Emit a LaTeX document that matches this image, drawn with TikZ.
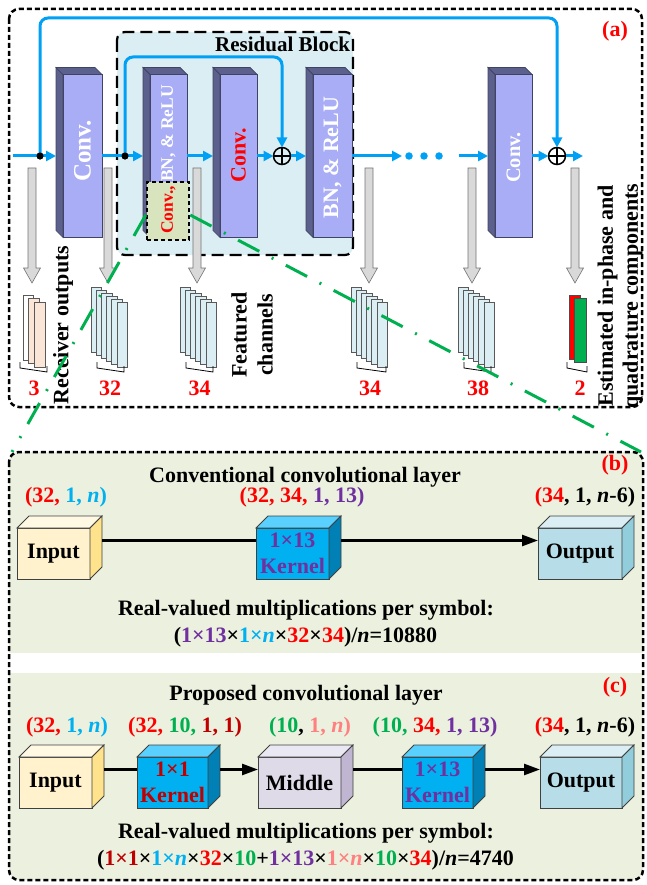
\documentclass[tikz,border=0pt]{standalone}
\usepackage{fontspec}
\setmainfont{Liberation Serif}
\usetikzlibrary{arrows.meta,calc}

% palette
\definecolor{flowblue}{RGB}{0,160,245}
\definecolor{layerblue}{RGB}{169,173,245}
\definecolor{layerdark}{RGB}{92,96,140}
\definecolor{resfill}{RGB}{218,238,243}
\definecolor{smallfill}{RGB}{215,228,189}
\definecolor{panelfill}{RGB}{235,241,222}
\definecolor{chanfill}{RGB}{218,238,243}
\definecolor{peach}{RGB}{251,229,214}
\definecolor{grayfill}{RGB}{217,217,217}
\definecolor{cred}{RGB}{255,0,0}
\definecolor{cblue}{RGB}{0,176,240}
\definecolor{cpurple}{RGB}{112,48,160}
\definecolor{cgreen}{RGB}{0,176,80}
\definecolor{cdred}{RGB}{192,0,0}
\definecolor{cpink}{RGB}{255,128,128}
\definecolor{infront}{RGB}{255,242,204}
\definecolor{intop}{RGB}{255,249,228}
\definecolor{inside}{RGB}{255,226,140}
\definecolor{kfront}{RGB}{0,176,240}
\definecolor{ktop}{RGB}{90,208,255}
\definecolor{kside}{RGB}{0,128,180}
\definecolor{mfront}{RGB}{222,218,232}
\definecolor{mtop}{RGB}{234,232,242}
\definecolor{mside}{RGB}{192,182,210}
\definecolor{ofront}{RGB}{183,222,232}
\definecolor{otop}{RGB}{218,238,243}
\definecolor{oside}{RGB}{146,205,220}

\newcommand\bfsz[2]{\fontsize{#1}{#2}\selectfont\bfseries}
\newcommand\txred[1]{\textcolor{cred}{#1}}
\newcommand\txblue[1]{\textcolor{cblue}{#1}}
\newcommand\txpurple[1]{\textcolor{cpurple}{#1}}
\newcommand\txgreen[1]{\textcolor{cgreen}{#1}}
\newcommand\txdred[1]{\textcolor{cdred}{#1}}
\newcommand\txpink[1]{\textcolor{cpink}{#1}}

\tikzset{
  txt/.style={font=\bfsz{22}{26}, inner sep=0pt, outer sep=0pt},
  panelframe/.style={draw=black, line width=2.5pt, dash pattern=on 5pt off 3pt, rounded corners=10pt},
  resblock/.style={draw=black, fill=resfill, line width=2.2pt, dash pattern=on 12pt off 6pt, rounded corners=8pt},
  layerface/.style={rectangle, draw=layerdark!70!black, line width=0.7pt, fill=layerblue,
    minimum height=163pt, inner sep=0pt, outer sep=0pt},
  layerside/.style={draw=layerdark!70!black, line width=0.7pt, fill=layerdark},
  smallconv/.style={rectangle, draw=black, fill=smallfill, line width=2.5pt, dash pattern=on 4pt off 3pt,
    minimum width=42pt, minimum height=58pt, inner sep=0pt},
  flow/.style={draw=flowblue, line width=3pt, -{Triangle[length=10pt,width=10pt]}},
  flowplain/.style={draw=flowblue, line width=3pt},
  junction/.style={circle, fill=black, minimum size=7pt, inner sep=0pt},
  bluedot/.style={circle, fill=flowblue, minimum size=7.5pt, inner sep=0pt},
  oplus/.style={circle, draw=black, line width=1.5pt, minimum size=17pt, inner sep=0pt, outer sep=0pt,
    path picture={\draw[line width=1.5pt] (path picture bounding box.north) -- (path picture bounding box.south)
      (path picture bounding box.west) -- (path picture bounding box.east);}},
  grayarr/.style={fill=grayfill, draw=black!55, line width=0.6pt},
  chan/.style={fill=chanfill, draw=black!65, line width=0.8pt},
  brk/.style={draw=black, line width=0.8pt},
  cubeface/.style={rectangle, draw=black!75, line width=0.8pt, minimum height=51pt, inner sep=0pt, outer sep=0pt},
  cubeedge/.style={draw=black!75, line width=0.8pt},
  blkline/.style={draw=black, line width=2.6pt},
  blkarrow/.style={draw=black, line width=2.6pt, -{Triangle[length=16pt,width=11pt]}},
  zoomline/.style={draw=cgreen, line width=3pt, dash pattern=on 24pt off 14pt on 2pt off 14pt},
}

% a layer drawn as a tall prism, depth towards the upper left
\newcommand\layerprism[3]{%
  \node[layerface, minimum width=#3pt, anchor=west] (#1) at (#2,156) {};
  \filldraw[layerside] (#1.north west) -- ($(#1.north west)+(-7,-7)$) -- ($(#1.south west)+(-7,-7)$) -- (#1.south west) -- cycle;
  \filldraw[layerside] (#1.north west) -- ($(#1.north west)+(-7,-7)$) -- ($(#1.north east)+(-7,-7)$) -- (#1.north east) -- cycle;
}
% a tensor/kernel drawn as a cube, depth towards the upper right
\newcommand\tcube[7]{%
  \node[cubeface, fill=#5, minimum width=#4pt, anchor=north west] (#1) at (#2,#3) {};
  \filldraw[cubeedge, fill=#6] (#1.north west) -- ($(#1.north west)+(12,-12)$) -- ($(#1.north east)+(12,-12)$) -- (#1.north east) -- cycle;
  \filldraw[cubeedge, fill=#7] (#1.north east) -- ($(#1.north east)+(12,-12)$) -- ($(#1.south east)+(12,-12)$) -- (#1.south east) -- cycle;
}
% wide gray arrow pointing down to a feature map
\newcommand\grayarrow[1]{%
  \filldraw[grayarr] (#1-4,168) -- (#1+4,168) -- (#1+4,268) -- (#1+8.5,268) -- (#1,283) -- (#1-8.5,268) -- (#1-4,268) -- cycle;
}
% stack of channels
\newcommand\chanstack[3]{%
  \foreach \k in {0,...,#3}{\filldraw[chan] ({#1+5.2*\k},{#2+3*\k}) rectangle ++(10.5,65);}
}
\newcommand\chanbracket[2]{%
  \draw[brk] (#1,362) -- (#1,368) -- (#2,372) -- (#2,366);
}

\begin{document}
\begin{tikzpicture}[x=1pt,y=-1pt]
\useasboundingbox (0,0) rectangle (646,885);

%% ---------------- panel (a): network ----------------
\draw[panelframe] (9,9) rectangle (642,407);
\draw[resblock] (117,32) rectangle (353,255);
\node[txt, font=\bfsz{21}{25}, anchor=base east] (rblabel) at (350,52) {Residual Block};
\node[txt, text=cred] (taga) at (615,31) {(a)};

\layerprism{conv1}{63}{39}
\layerprism{bn1}{150}{37}
\layerprism{conv2}{220}{37}
\layerprism{bn2}{313}{39}
\layerprism{conv3}{495}{37}

\node[smallconv] (sconv) at (168,211) {};

\node[txt, rotate=90, text=white, font=\bfsz{25}{28}] (conv1txt) at (82.5,151) {Conv.};
\node[txt, rotate=90, text=white, font=\bfsz{17.5}{20}] (bn1txt) at (168.5,159.5) {\textcolor{cred}{Conv.,} BN, \& ReLU};
\node[txt, rotate=90, text=cred, font=\bfsz{22}{26}] (conv2txt) at (238.5,155) {Conv.};
\node[txt, rotate=90, text=white, font=\bfsz{22}{26}] (bn2txt) at (332.5,157.5) {BN, \& ReLU};
\node[txt, rotate=90, text=white, font=\bfsz{20.5}{24}] (conv3txt) at (513.5,157.5) {Conv.};

% junctions, adders and the ellipsis
\coordinate (src) at (13,156);
\coordinate (sink) at (583,156);
\coordinate (topO) at (0,18);
\coordinate (topI) at (0,57);
\node[junction] (j1) at (40,156) {};
\node[junction] (j2) at (125,156) {};
\node[oplus] (add1) at (282,156) {};
\node[oplus] (add2) at (557,156) {};
\node[bluedot] (d1) at (409,156) {};
\node[bluedot] (d2) at (424,156) {};
\node[bluedot] (d3) at (439,156) {};

% main data path
\draw[flow] (src) -- ([xshift=-7pt]conv1.west);
\draw[flow] (conv1.east) -- ([xshift=-7pt]bn1.west);
\draw[flow] (bn1.east) -- ([xshift=-7pt]conv2.west);
\draw[flow] (conv2.east) -- (add1.west);
\draw[flow] (add1.east) -- ([xshift=-7pt]bn2.west);
\draw[flow] (bn2.east) -- ([xshift=-3pt]d1.west);
\draw[flow] ([xshift=16pt]d3.east) -- ([xshift=-7pt]conv3.west);
\draw[flow] (conv3.east) -- (add2.west);
\draw[flow] (add2.east) -- (sink);
% skip connections
\draw[flow, rounded corners=8pt] (j1.center) -- (j1 |- topO) -- (add2 |- topO) -- (add2.north);
\draw[flow, rounded corners=8pt] (j2.center) -- (j2 |- topI) -- (add1 |- topI) -- (add1.north);
\node[junction] at (j1) {};
\node[junction] at (j2) {};

% outputs of the layers
\grayarrow{32}
\grayarrow{108}
\grayarrow{197}
\grayarrow{369}
\grayarrow{472}
\grayarrow{575}

% feature maps
\filldraw[chan, fill=white] (23,295) rectangle ++(10.5,65);
\filldraw[chan, fill=peach] (28.7,298.5) rectangle ++(10.5,65);
\filldraw[chan, fill=peach] (34.4,302) rectangle ++(10.5,65);
\chanstack{91}{287}{5}
\chanstack{180}{287}{5}
\chanstack{351}{287}{5}
\chanstack{458}{287}{5}
\filldraw[draw=black!70, line width=0.8pt, fill=cred] (569,295) rectangle ++(11,64);
\filldraw[draw=black!70, line width=0.8pt, fill=cgreen] (574,298) rectangle ++(12,64);

\chanbracket{20}{47}
\chanbracket{97}{124}
\chanbracket{186}{213}
\chanbracket{357}{386}
\chanbracket{464}{491}
\chanbracket{567}{587}

\node[txt, text=cred, anchor=base] (n1) at (34,395) {3};
\node[txt, text=cred, anchor=base] (n2) at (110,395) {32};
\node[txt, text=cred, anchor=base] (n3) at (199.5,395) {34};
\node[txt, text=cred, anchor=base] (n4) at (370,395) {34};
\node[txt, text=cred, anchor=base] (n5) at (478,395) {38};
\node[txt, text=cred, anchor=base] (n6) at (580,395) {2};

\node[txt, rotate=90] (recvlbl) at (63,325) {Receiver outputs};
\node[txt, rotate=90, align=center] (featlbl) at (252,335) {Featured\\channels};
\node[txt, rotate=90, align=center, font=\bfsz{22}{25}] (estlbl) at (620,296) {Estimated in-phase and\\quadrature components};

%% ---------------- panels (b) and (c): layer comparison ----------------
\fill[panelfill, rounded corners=10pt] (9,452) rectangle (643,880);
\fill[white] (9,653) rectangle (643,673);
\draw[panelframe] (9,452) rectangle (643,880);

% (b) conventional layer
\node[txt, anchor=base] (titleb) at (305,482) {Conventional convolutional layer};
\node[txt, text=cred] (tagb) at (615,465) {(b)};
\node[txt, anchor=base] (dimb1) at (66,502) {\txred{(32,} \txblue{1, \textit{n})}};
\node[txt, anchor=base] (dimb2) at (302,502) {\txred{(32, 34,} \txpurple{1, 13)}};
\node[txt, anchor=base] (dimb3) at (585,502) {\txred{(34}, 1, \textit{n}-6)};

\tcube{inb}{17}{528}{73}{infront}{intop}{inside}
\tcube{kerb}{256}{528}{73}{kfront}{ktop}{kside}
\tcube{outb}{538}{528}{84}{ofront}{otop}{oside}
\node[txt] (inbt) at (inb.center) {Input};
\node[txt, align=center, text=cpurple] (kerbt) at (kerb.center) {1×13\\Kernel};
\node[txt] (outbt) at (outb.center) {Output};

\draw[blkline] ($(inb.east)+(12,-13)$) -- ($(kerb.west)+(0,-13)$);
\draw[blkarrow] ($(kerb.east)+(12,-13)$) -- ($(outb.west)+(0,-13)$);

\node[txt, anchor=base] (mulb) at (306,615) {Real-valued multiplications per symbol:};
\node[txt, anchor=base] (formb) at (305.5,642) {(\txpurple{1×13}×\txblue{1×\textit{n}}×\txred{32}×\txred{34})/\textit{n}=10880};

% (c) proposed layer
\node[txt, anchor=base] (titlec) at (306,700) {Proposed convolutional layer};
\node[txt, text=cred] (tagc) at (615,687) {(c)};
\node[txt, anchor=base] (dimc1) at (67,732) {\txred{(32,} \txblue{1, \textit{n})}};
\node[txt, anchor=base] (dimc2) at (185,732) {\txred{(32,} \txgreen{10,} \txdred{1, 1)}};
\node[txt, anchor=base] (dimc3) at (310,732) {\txgreen{(10}, \txpink{1, \textit{n})}};
\node[txt, anchor=base] (dimc4) at (435,732) {\txgreen{(10,} \txred{34,} \txpurple{1, 13)}};
\node[txt, anchor=base] (dimc5) at (585,732) {\txred{(34}, 1, \textit{n}-6)};

\tcube{inc}{19}{757}{73}{infront}{intop}{inside}
\tcube{kerc}{137}{757}{71}{kfront}{ktop}{kside}
\tcube{midc}{258}{757}{83}{mfront}{mtop}{mside}
\tcube{kerd}{402}{757}{71}{kfront}{ktop}{kside}
\tcube{outc}{540}{757}{82}{ofront}{otop}{oside}
\node[txt] (inct) at (inc.center) {Input};
\node[txt, align=center, text=cdred] (kerct) at (kerc.center) {1×1\\Kernel};
\node[txt] (midct) at (midc.center) {Middle};
\node[txt, align=center, text=cpurple] (kerdt) at (kerd.center) {1×13\\Kernel};
\node[txt] (outct) at (outc.center) {Output};

\draw[blkline] ($(inc.east)+(12,-13)$) -- ($(kerc.west)+(0,-13)$);
\draw[blkarrow] ($(kerc.east)+(12,-13)$) -- ($(midc.west)+(0,-13)$);
\draw[blkline] ($(midc.east)+(12,-13)$) -- ($(kerd.west)+(0,-13)$);
\draw[blkarrow] ($(kerd.east)+(12,-13)$) -- ($(outc.west)+(0,-13)$);

\node[txt, anchor=base] (mulc) at (306,838) {Real-valued multiplications per symbol:};
\node[txt, anchor=base] (formc) at (305.5,865) {(\txdred{1×1}×\txblue{1×\textit{n}}×\txred{32}×\txgreen{10}+\txpurple{1×13}×\txpink{1×\textit{n}}×\txgreen{10}×\txred{34})/\textit{n}=4740};

%% zoom lines from the highlighted convolution to panel (b)
\coordinate (zl) at (12,452);
\coordinate (zr) at (641,452);
\draw[zoomline] ([yshift=-4pt]sconv.west) -- (zl);
\draw[zoomline] ([yshift=-4pt]sconv.east) -- (zr);
\end{tikzpicture}
\end{document}
